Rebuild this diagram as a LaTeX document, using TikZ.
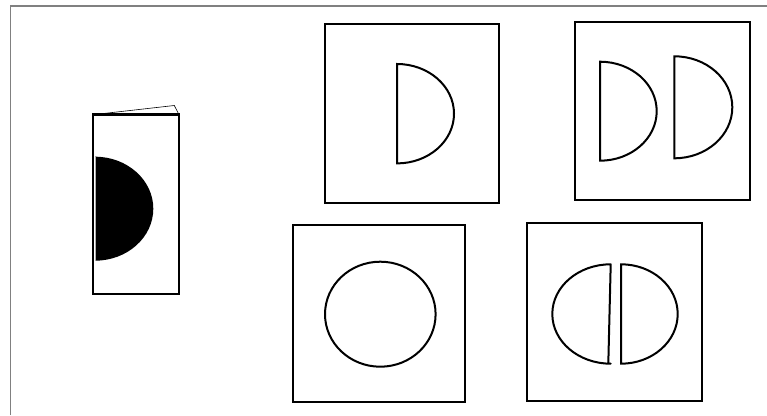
\documentclass[tikz,border=0pt]{standalone}

\tikzset{
    panel/.style={line width=2.2pt},
    outline/.style={line width=2pt},
}

\begin{document}
\begin{tikzpicture}[x=1pt, y=1pt]
    \useasboundingbox (0,0) rectangle (767,415);
    % Frame round the page
    \draw[gray, line width=1.2pt] (10.5,0) -- (10.5,409) -- (767,409);
    %
    % Folded card with the black half disc
    %
    \draw[line width=0.6pt] (93,300.3) -- (174.3,309.5) -- (179,300.3);
    \draw[line width=2.4pt, fill=white] (93,121.3) rectangle (179,300.3);
    \fill[black] (95,258.3) arc[start angle=90, end angle=-90, x radius=58.3, y radius=52] -- cycle;
    \draw[gray!60, thin] (95,258.3) -- (95,154.3);
    %
    % Top row: one half, then two halves
    %
    \draw[panel] (325,212) rectangle (499,391);
    \draw[outline] (397,351) arc[start angle=90, end angle=-90, x radius=57, y radius=49.7] -- cycle;
    \draw[panel] (575,215) rectangle (750,392.7);
    \draw[outline] (600,353.3) arc[start angle=90, end angle=-90, x radius=56.7, y radius=49.5] -- cycle;
    \draw[outline] (674.3,358.7) arc[start angle=90, end angle=-90, x radius=58, y radius=51] -- cycle;
    %
    % Bottom row: the whole disc, then the disc cut in two
    %
    \draw[panel] (293.3,12.7) rectangle (465,190);
    \draw[outline] (380.3,100.8) ellipse[x radius=55.3, y radius=52.5];
    \draw[panel] (527.3,14.3) rectangle (702,192.3);
    \draw[outline, line join=round] (608.3,51.3) -- (610.7,150.7)
        arc[start angle=90, end angle=270, x radius=58.4, y radius=49.7] -- cycle;
    \draw[outline] (621,150.7) arc[start angle=90, end angle=-90, x radius=56.7, y radius=49.7] -- cycle;
\end{tikzpicture}
\end{document}
